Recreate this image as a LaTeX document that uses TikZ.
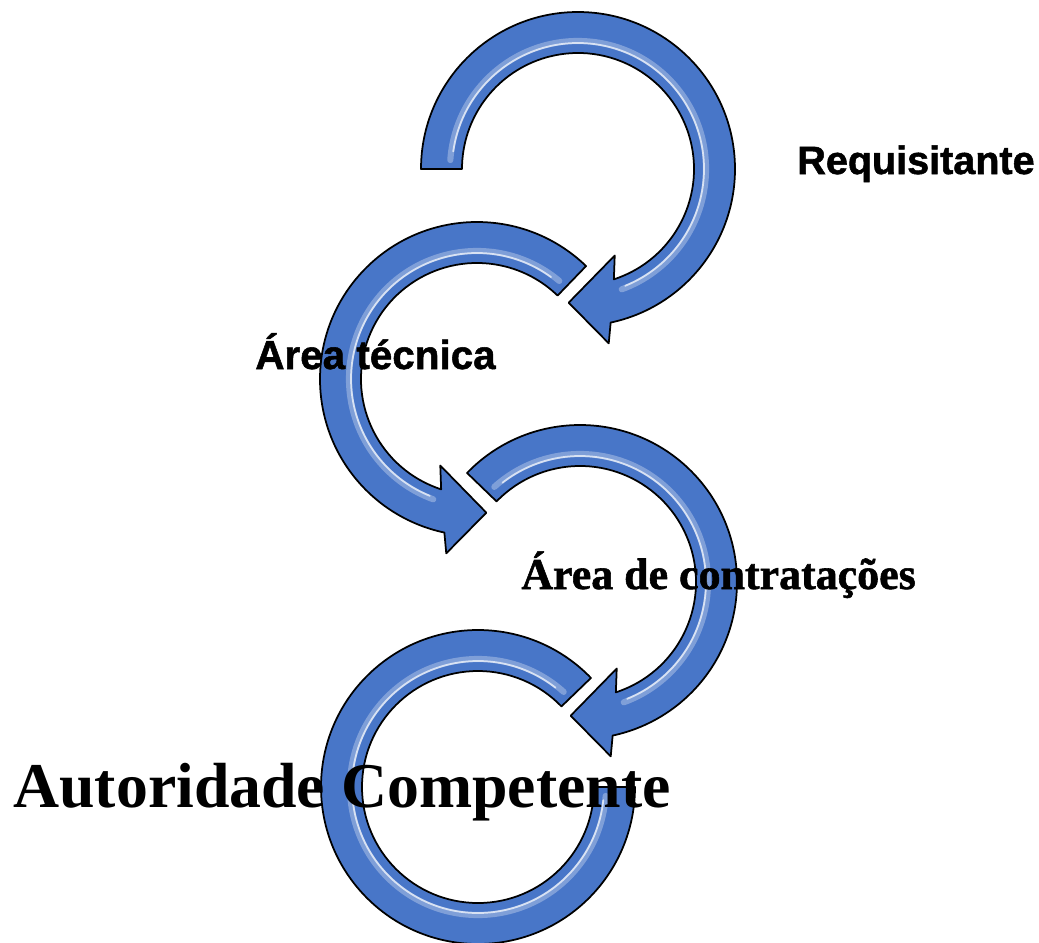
\documentclass[tikz,border=0pt]{standalone}
\usepackage{fontspec}
\usepackage{tikz}
\usetikzlibrary{calc}
\newfontfamily\arialfont[FakeBold=1.3]{Liberation Sans Bold}
\newfontfamily\heavyserif[FakeBold=1.3]{Liberation Serif Bold}
\newfontfamily\timesfont{Liberation Serif}
\definecolor{ringblue}{RGB}{72,118,200}
\tikzstyle{ring} = [fill=ringblue,draw=black,line width=0.35mm,line join=round]
\tikzstyle{shine} = [draw=white,opacity=0.3,line width=3.5pt,line cap=round]
\tikzstyle{glint} = [draw=white,opacity=0.7,line width=1pt,line cap=round]
\tikzstyle{lbl} = [anchor=base west,inner sep=0pt]

\begin{document}
\begin{tikzpicture}[x=0.2mm,y=0.2mm]
    \useasboundingbox (0,0) rectangle (1039,-942);
    \coordinate (c1) at (578,-169);
    \coordinate (c2) at (477,-379);
    \coordinate (c3) at (580,-582);
    \coordinate (c4) at (478,-787);
    % first arrow, clockwise
    \draw [ring] ($(c1)+(180:157)$) arc [start angle=180,end angle=-78,radius=157]
      -- ($(c1)+(-80:177)$) -- ($(c1)+(-94:134)$) -- ($(c1)+(-67:94)$) -- ($(c1)+(-72:116)$)
      arc [start angle=-72,end angle=180,radius=116] -- cycle;
    \draw [shine] ($(c1)+(176:128)$) arc [start angle=176,end angle=-70,radius=128];
    \draw [glint] ($(c1)+(172:126)$) arc [start angle=172,end angle=-68,radius=126];
    % second arrow, counterclockwise
    \draw [ring] ($(c2)+(46:157)$) arc [start angle=46,end angle=258,radius=157]
      -- ($(c2)+(260:177)$) -- ($(c2)+(274:134)$) -- ($(c2)+(247:94)$) -- ($(c2)+(252:116)$)
      arc [start angle=252,end angle=46,radius=116] -- cycle;
    \draw [shine] ($(c2)+(50:128)$) arc [start angle=50,end angle=250,radius=128];
    \draw [glint] ($(c2)+(54:126)$) arc [start angle=54,end angle=248,radius=126];
    % third arrow
    \draw [ring] ($(c3)+(136:157)$) arc [start angle=136,end angle=-78,radius=157]
      -- ($(c3)+(-80:177)$) -- ($(c3)+(-94:134)$) -- ($(c3)+(-67:94)$) -- ($(c3)+(-72:116)$)
      arc [start angle=-72,end angle=136,radius=116] -- cycle;
    \draw [shine] ($(c3)+(132:128)$) arc [start angle=132,end angle=-70,radius=128];
    \draw [glint] ($(c3)+(128:126)$) arc [start angle=128,end angle=-68,radius=126];
    % last ring
    \draw [ring] ($(c4)+(44:157)$) arc [start angle=44,end angle=360,radius=157]
      -- ($(c4)+(0:116)$) arc [start angle=360,end angle=44,radius=116] -- cycle;
    \draw [shine] ($(c4)+(48:128)$) arc [start angle=48,end angle=356,radius=128];
    \draw [glint] ($(c4)+(52:126)$) arc [start angle=52,end angle=354,radius=126];
    % labels
    \node [lbl] (req) at (797,-174) {\arialfont\fontsize{22.5}{27}\selectfont Requisitante};
    \node [lbl] (tec) at (255,-369) {\arialfont\fontsize{23}{27}\selectfont Área técnica};
    \node [lbl] (cont) at (521,-589) {\heavyserif\fontsize{25}{30}\selectfont Área de contratações};
    \node [lbl] (aut) at (13,-807) {\timesfont\bfseries\fontsize{36.3}{42}\selectfont Autoridade Competente};
  \end{tikzpicture}
\end{document}
